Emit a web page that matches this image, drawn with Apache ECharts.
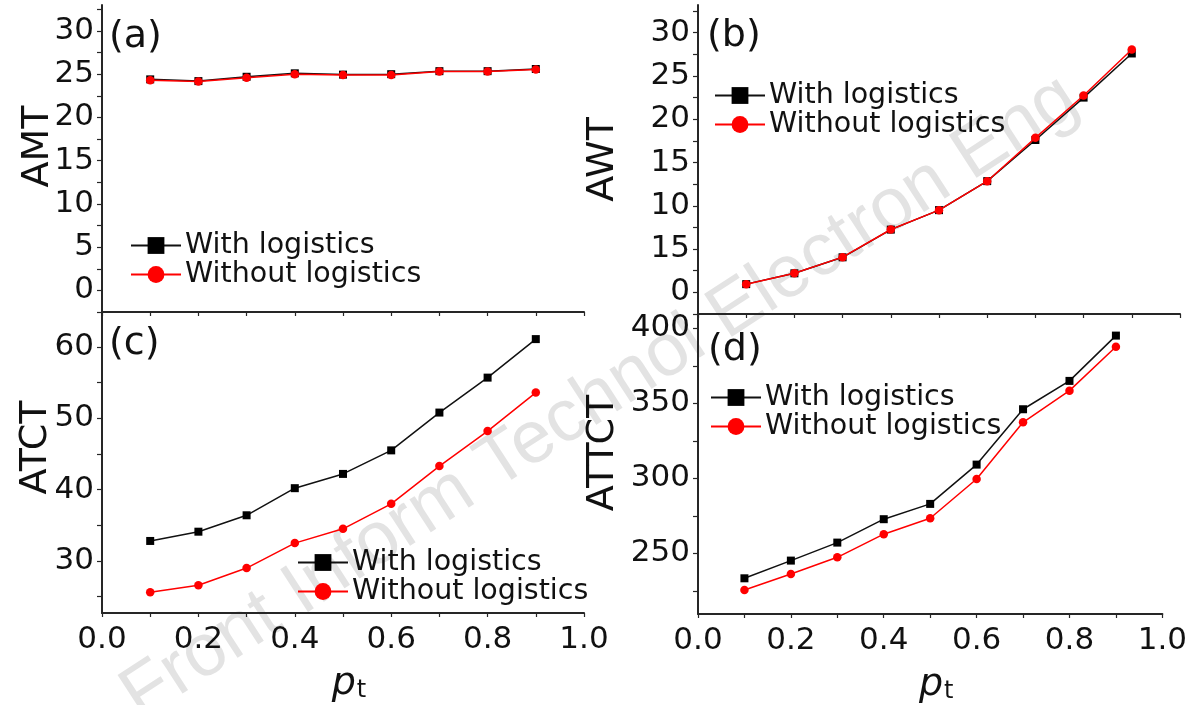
<!DOCTYPE html>
<html>
<head>
<meta charset="utf-8">
<script src="https://cdn.jsdelivr.net/npm/echarts@6/dist/echarts.min.js"></script>
<style>
html,body{margin:0;padding:0;background:#fff;}
#chart{width:1190px;height:705px;}
</style>
</head>
<body>
<div id="chart"></div>
<script>
// ---- data ----
const pt = [0.1, 0.2, 0.3, 0.4, 0.5, 0.6, 0.7, 0.8, 0.9];
const seriesNames = ['With logistics', 'Without logistics'];

const amtWith    = [24.4, 24.2, 24.7, 25.1, 24.95, 25.0, 25.35, 25.35, 25.6];
const amtWithout = [24.3, 24.15, 24.6, 25.0, 24.9, 24.9, 25.3, 25.3, 25.55];

const awtWith    = [0.95, 2.2, 4.05, 7.25, 9.5, 12.85, 17.6, 22.5, 27.6];
const awtWithout = [0.93, 2.2, 4.07, 7.26, 9.5, 12.84, 17.85, 22.75, 28.05];

const atctWith    = [32.8, 34.1, 36.4, 40.2, 42.2, 45.5, 50.8, 55.7, 61.1];
const atctWithout = [25.6, 26.6, 29.0, 32.5, 34.5, 38.0, 43.3, 48.2, 53.6];

const attctWith    = [233.3, 245.1, 257.1, 272.7, 282.9, 309.1, 346.0, 364.9, 395.1];
const attctWithout = [225.5, 236.2, 247.3, 262.7, 273.3, 299.5, 337.3, 358.4, 387.7];

// tick values / labels
const xTickValues  = [0, 0.1, 0.2, 0.3, 0.4, 0.5, 0.6, 0.7, 0.8, 0.9, 1.0];
const xLabelValues = [0, 0.2, 0.4, 0.6, 0.8, 1.0];
const xLabels      = ['0.0', '0.2', '0.4', '0.6', '0.8', '1.0'];

const amtTickValues  = [-2.5, 0, 2.5, 5, 7.5, 10, 12.5, 15, 17.5, 20, 22.5, 25, 27.5, 30, 32.5];
const amtLabelValues = [0, 5, 10, 15, 20, 25, 30];
const amtLabels      = ['0', '5', '10', '15', '20', '25', '30'];

const awtTickValues  = [-2.5, 0, 2.5, 5, 7.5, 10, 12.5, 15, 17.5, 20, 22.5, 25, 27.5, 30, 32.5];
const awtLabelValues = [0, 5, 10, 15, 20, 25, 30];
const awtLabels      = ['0', '15', '10', '15', '20', '25', '30'];

const atctTickValues  = [25, 30, 35, 40, 45, 50, 55, 60];
const atctLabelValues = [30, 40, 50, 60];
const atctLabels      = ['30', '40', '50', '60'];

const attctTickValues  = [225, 250, 275, 300, 325, 350, 375, 400];
const attctLabelValues = [250, 300, 350, 400];
const attctLabels      = ['250', '300', '350', '400'];

const panelLetters = ['(a)', '(b)', '(c)', '(d)'];
const watermark = 'Front Inform Technol Electron Eng';

// ---- styling ----
const FONT = 'DejaVu Sans';
const AXIS_COLOR = '#262626';
const TEXT_COLOR = '#111';

function pairs(ys) { return pt.map((x, i) => [x, ys[i]]); }
function mapLabel(values, labels) {
  return function (v) {
    for (let i = 0; i < values.length; i++) {
      if (Math.abs(values[i] - v) < 1e-6) return labels[i];
    }
    return '';
  };
}

const grids = [
  { left: 102, top: 5,   width: 482, height: 307 },
  { left: 698, top: 5,   width: 482, height: 309 },
  { left: 102, top: 312, width: 482, height: 301 },
  { left: 698, top: 314, width: 482, height: 300 }
];

function xAxisFor(idx, showLabels) {
  const ax = {
    type: 'value', gridIndex: idx, min: 0, max: 1,
    axisLine: { show: true, onZero: false, lineStyle: { color: AXIS_COLOR, width: 2 } },
    axisTick: { show: true, inside: false, length: 4, customValues: xTickValues,
                lineStyle: { color: AXIS_COLOR, width: 1.2 } },
    splitLine: { show: false },
    axisLabel: { show: showLabels, customValues: xLabelValues,
                 formatter: mapLabel(xLabelValues, xLabels),
                 fontFamily: FONT, fontSize: 31, color: TEXT_COLOR, margin: 11 }
  };
  if (showLabels) {
    ax.name = '{p|p}{t|t}';
    ax.nameLocation = 'middle';
    ax.nameGap = 52;
    ax.nameMoveOverlap = false;
    ax.nameTextStyle = {
      padding: [0, 0, 0, 12],
      rich: {
        p: { fontFamily: FONT, fontStyle: 'italic', fontSize: 38, color: TEXT_COLOR },
        t: { fontFamily: FONT, fontSize: 24, color: TEXT_COLOR, verticalAlign: 'bottom', padding: [0, 0, 0, 1] }
      }
    };
  }
  return ax;
}

function yAxisFor(idx, name, min, max, tickValues, labelValues, labels, gap, shiftUp) {
  return {
    type: 'value', gridIndex: idx, min: min, max: max,
    name: name, nameLocation: 'middle', nameGap: gap, nameMoveOverlap: false,
    nameTextStyle: { fontFamily: FONT, fontSize: 38, color: TEXT_COLOR,
                     padding: [0, 0, 0, 2 * shiftUp] },
    axisLine: { show: true, onZero: false, lineStyle: { color: AXIS_COLOR, width: 2 } },
    axisTick: { show: true, inside: false, length: 5, customValues: tickValues,
                lineStyle: { color: AXIS_COLOR, width: 1.2 } },
    splitLine: { show: false },
    axisLabel: { customValues: labelValues, formatter: mapLabel(labelValues, labels),
                 fontFamily: FONT, fontSize: 31, color: TEXT_COLOR, margin: 8 }
  };
}

function seriesFor(idx, withData, withoutData) {
  return [
    { name: seriesNames[0], type: 'line', xAxisIndex: idx, yAxisIndex: idx,
      data: pairs(withData), symbol: 'rect', symbolSize: 8, showSymbol: true,
      itemStyle: { color: '#000' }, lineStyle: { color: '#111', width: 1.5 },
      emphasis: { disabled: true }, animation: false, z: 2 },
    { name: seriesNames[1], type: 'line', xAxisIndex: idx, yAxisIndex: idx,
      data: pairs(withoutData), symbol: 'circle', symbolSize: 8.5, showSymbol: true,
      itemStyle: { color: '#ff0000' }, lineStyle: { color: '#ff0000', width: 1.5 },
      emphasis: { disabled: true }, animation: false, z: 3 }
  ];
}

function legendAt(left, top) {
  return {
    left: left, top: top, orient: 'vertical', padding: 0, itemGap: 0,
    itemWidth: 50, itemHeight: 21, selectedMode: false,
    data: seriesNames,
    textStyle: { fontFamily: FONT, fontSize: 28.5, color: TEXT_COLOR, lineHeight: 29, padding: [0, 0, 0, -1] }
  };
}

const letterPos = [[109, 37], [707, 36], [109, 344], [708, 350]];

const option = {
  backgroundColor: '#fff',
  animation: false,
  grid: grids,
  xAxis: [xAxisFor(0, false), xAxisFor(1, false), xAxisFor(2, true), xAxisFor(3, true)],
  yAxis: [
    yAxisFor(0, 'AMT', -2.5, 33, amtTickValues, amtLabelValues, amtLabels, 45, 12),
    yAxisFor(1, 'AWT', -2.5, 33.2, awtTickValues, awtLabelValues, awtLabels, 76, 0),
    yAxisFor(2, 'ATCT', 22.7, 64.9, atctTickValues, atctLabelValues, atctLabels, 47, 15),
    yAxisFor(3, 'ATTCT', 209.5, 409.5, attctTickValues, attctLabelValues, attctLabels, 76, 11)
  ],
  legend: [legendAt(130, 231), legendAt(714, 81), legendAt(297, 548), legendAt(710, 383)],
  series: [].concat(
    seriesFor(0, amtWith, amtWithout),
    seriesFor(1, awtWith, awtWithout),
    seriesFor(2, atctWith, atctWithout),
    seriesFor(3, attctWith, attctWithout)
  ),
  graphic: [
    { type: 'text', x: 600, y: 398, rotation: 33 * Math.PI / 180, z: -10, silent: true,
      style: { text: watermark, x: 0, y: 0, align: 'center', verticalAlign: 'middle',
               font: '74px "Liberation Sans"', fill: '#e3e3e3' } }
  ].concat(panelLetters.map((t, i) => ({
    type: 'text', x: letterPos[i][0], y: letterPos[i][1], z: 10, silent: true,
    style: { text: t, x: 0, y: 0, align: 'left', verticalAlign: 'middle',
             font: '38px "DejaVu Sans"', fill: TEXT_COLOR }
  })))
};

const chart = echarts.init(document.getElementById('chart'), null, { renderer: 'canvas' });
chart.setOption(option);
</script>
</body>
</html>
